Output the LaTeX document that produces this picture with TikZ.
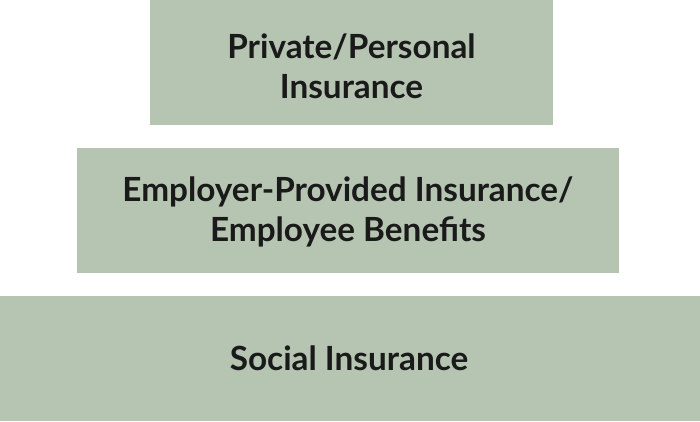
\documentclass[tikz,border=0pt]{standalone}
\usepackage{fontspec}
\setmainfont{Lato}
\definecolor{boxgreen}{HTML}{B5C5B2}
\definecolor{txt}{HTML}{1A1A1A}
\begin{document}
\begin{tikzpicture}[x=1pt,y=-1pt,
  tier/.style={fill=boxgreen,draw=none},
  lbl/.style={text=txt,font=\fontsize{33.3}{40}\selectfont\bfseries,align=center,inner sep=0pt}]
\useasboundingbox (0,0) rectangle (700,421);
\fill[white] (0,0) rectangle (700,421);
\path[tier] (150,0) rectangle (553,125);
\node[lbl] (top) at (351.5,66) {Private/Personal\\Insurance};
\path[tier] (77,148) rectangle (619,273);
\node[lbl] (mid) at (348,212) {Employer-Provided Insurance/\\Employee Benefits};
\path[tier] (0,296) rectangle (700,421);
\node[lbl] (bot) at (349,358.5) {Social Insurance};
\end{tikzpicture}
\end{document}
